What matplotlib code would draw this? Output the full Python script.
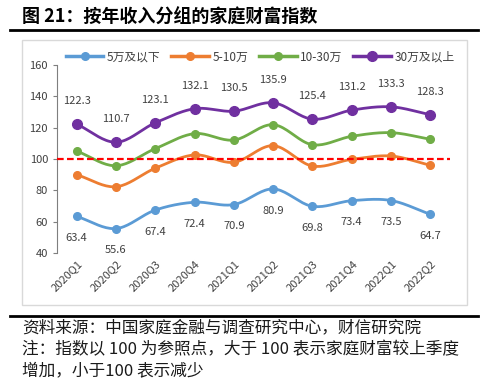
import matplotlib
matplotlib.use("Agg")
import matplotlib.pyplot as plt
import numpy as np
from matplotlib.patches import Rectangle
from matplotlib.lines import Line2D

plt.rcParams['font.family'] = ['Noto Sans CJK SC', 'DejaVu Sans']

quarters = ["2020Q1", "2020Q2", "2020Q3", "2020Q4", "2021Q1", "2021Q2",
            "2021Q3", "2021Q4", "2022Q1", "2022Q2"]
series_names = ["5万及以下", "5-10万", "10-30万", "30万及以上"]
low = [63.4, 55.6, 67.4, 72.4, 70.9, 80.9, 69.8, 73.4, 73.5, 64.7]
mid_low = [90.0, 82.3, 94.1, 102.6, 97.9, 108.5, 95.5, 99.8, 101.9, 96.0]
mid_high = [105.1, 95.7, 106.6, 116.2, 112.1, 121.9, 109.1, 114.5, 116.8, 112.6]
high = [122.3, 110.7, 123.1, 132.1, 130.5, 135.9, 125.4, 131.2, 133.3, 128.3]
colors = ["#5B9BD5", "#ED7D31", "#70AD47", "#7030A0"]
yticks = [40, 60, 80, 100, 120, 140, 160]


def smooth(x, y, n=20):
    x = np.asarray(x, float)
    y = np.asarray(y, float)
    px = np.concatenate([[2 * x[0] - x[1]], x, [2 * x[-1] - x[-2]]])
    py = np.concatenate([[2 * y[0] - y[1]], y, [2 * y[-1] - y[-2]]])
    xs, ys = [], []
    t = np.linspace(0, 1, n, endpoint=False)
    for i in range(1, len(px) - 2):
        p0, p1, p2, p3 = py[i - 1], py[i], py[i + 1], py[i + 2]
        q0, q1, q2, q3 = px[i - 1], px[i], px[i + 1], px[i + 2]
        f = lambda a0, a1, a2, a3: 0.5 * ((2 * a1) + (-a0 + a2) * t +
                                          (2 * a0 - 5 * a1 + 4 * a2 - a3) * t ** 2 +
                                          (-a0 + 3 * a1 - 3 * a2 + a3) * t ** 3)
        xs.append(f(q0, q1, q2, q3))
        ys.append(f(p0, p1, p2, p3))
    xs.append([x[-1]])
    ys.append([y[-1]])
    return np.concatenate(xs), np.concatenate(ys)


fig = plt.figure(figsize=(5, 3.85), dpi=100)

# title and rules
fig.text(22 / 500, 1 - 17 / 385, "图 21：按年收入分组的家庭财富指数", fontsize=13,
         fontweight='bold', ha='left', va='center')
fig.add_artist(Line2D([10 / 500, 478 / 500], [1 - 30 / 385] * 2, color='black', lw=2))
fig.add_artist(Rectangle((22 / 500, 1 - 305 / 385), 445 / 500, 265 / 385,
                         fill=False, edgecolor='#D9D9D9', lw=1))
fig.add_artist(Line2D([10 / 500, 478 / 500], [1 - 316 / 385] * 2, color='black', lw=2))

ax = fig.add_axes([57 / 500, 1 - 253 / 385, 393 / 500, 188 / 385])
x = np.arange(len(quarters))
data = [low, mid_low, mid_high, high]
handles = []
for vals, c, name in zip(data, colors, series_names):
    ms = 7 if c == "#7030A0" else 5.5
    sx, sy = smooth(x, vals)
    ax.plot(sx, sy, color=c, lw=2, zorder=3)
    ax.plot(x, vals, 'o', color=c, ms=ms, zorder=4)
    handles.append(Line2D([], [], color=c, lw=2.5, marker='o', ms=ms, label=name))

ax.axhline(100, color='#FF0000', lw=1.6, ls=(0, (3, 1.5)), zorder=5)

for xi, v in zip(x, high):
    ax.annotate(f"{v:.1f}", (xi, v), xytext=(0, 13), textcoords='offset points',
                ha='center', va='bottom', fontsize=8, color='#404040')
for xi, v in zip(x, low):
    ax.annotate(f"{v:.1f}", (xi, v), xytext=(0, -12), textcoords='offset points',
                ha='center', va='top', fontsize=8, color='#404040')

ax.set_xlim(-0.5, 9.5)
ax.set_ylim(40, 160)
ax.set_yticks(yticks)
ax.set_xticks(x)
ax.set_xticklabels(quarters, rotation=45, ha='right', rotation_mode='anchor',
                   fontsize=8, color='#404040')
ax.tick_params(axis='y', labelsize=8, labelcolor='#404040', color='#7F7F7F',
               length=3, direction='out')
ax.tick_params(axis='x', length=0, pad=4)
for s in ['top', 'right', 'bottom']:
    ax.spines[s].set_visible(False)
ax.spines['left'].set_color('#7F7F7F')
ax.set_facecolor('none')

fig.legend(handles=handles, loc='center left', ncol=4,
           bbox_to_anchor=(55 / 500, 1 - 57 / 385), frameon=False, fontsize=8.5,
           handlelength=3.2, handletextpad=0.3, columnspacing=0.9,
           labelcolor='#404040')

foot = ["资料来源：中国家庭金融与调查研究中心，财信研究院",
        "注：指数以 100 为参照点，大于 100 表示家庭财富较上季度",
        "增加，小于100 表示减少"]
for i, t in enumerate(foot):
    fig.text(22 / 500, 1 - (328 + i * 21.5) / 385, t, fontsize=12, style='italic',
             ha='left', va='center', color='#1a1a1a')

fig.savefig("out.png", dpi=100)
